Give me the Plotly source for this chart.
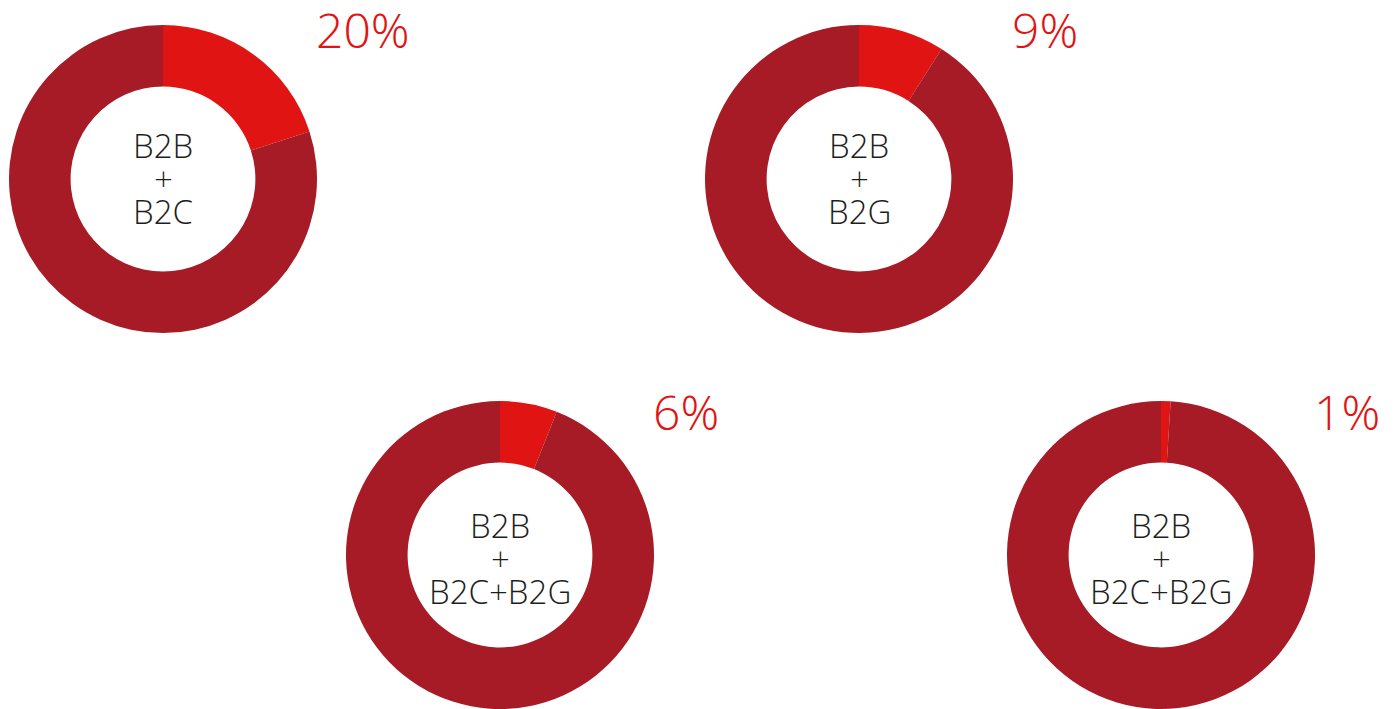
import plotly.graph_objects as go

# share of each business model (red slice), rest is the remainder
labels = ["B2B<br>+<br>B2C", "B2B<br>+<br>B2G", "B2B<br>+<br>B2C+B2G", "B2B<br>+<br>B2C+B2G"]
shares = [20, 9, 6, 1]
share_text = ["20%", "9%", "6%", "1%"]

# page body has an 8px margin, so the canvas is a bit smaller than the window
PAD = 8
W, H = 1396 - PAD, 709 - PAD
R = 154
centers = [(163, 179), (859, 179), (500, 555), (1161, 555)]
label_y = [178, 178, 558, 558]
pct_y = [29, 29, 411, 411]

RED = "#e11414"
DARK = "#a61b25"
FONT = "Open Sans Light, Open Sans"


def px(x):
    return (x - PAD) / W


def py(y):
    return 1 - (y - PAD) / H


fig = go.Figure()
annotations = []
for (cx, cy), ly, ty, lab, s, txt in zip(centers, label_y, pct_y, labels, shares, share_text):
    fig.add_trace(go.Pie(
        values=[s, 100 - s],
        labels=["share", "rest"],
        hole=0.6,
        sort=False,
        direction="clockwise",
        rotation=0,
        marker=dict(colors=[RED, DARK], line=dict(width=0)),
        textinfo="none",
        hoverinfo="skip",
        domain=dict(x=[px(cx - R), px(cx + R)],
                    y=[max(0, py(cy + R)), min(1, py(cy - R))]),
    ))
    # centre label, one annotation per line to keep the tight spacing
    for i, line in enumerate(lab.split("<br>")):
        annotations.append(dict(
            x=px(cx), y=py(ly - 33 + 33 * i), xref="paper", yref="paper",
            text=line, showarrow=False, xanchor="center", yanchor="middle",
            height=30,
            font=dict(family=FONT, size=33, color="#1e1e1e", weight=300),
        ))
    annotations.append(dict(
        x=px(cx + R - 3), y=py(ty), xref="paper", yref="paper",
        text=txt, showarrow=False, xanchor="left", yanchor="middle",
        height=40,
        font=dict(family=FONT, size=48, color=RED, weight=300),
    ))

fig.update_layout(
    width=W, height=H,
    margin=dict(l=0, r=0, t=0, b=0),
    showlegend=False,
    paper_bgcolor="white",
    plot_bgcolor="white",
    annotations=annotations,
)

fig.write_html("out.html")
